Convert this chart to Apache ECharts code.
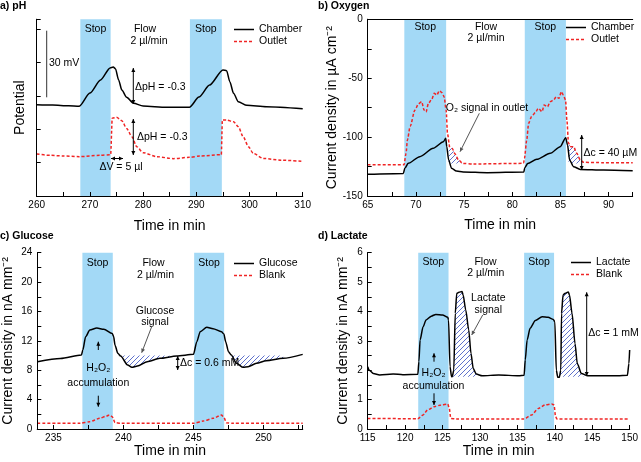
<!DOCTYPE html>
<html><head><meta charset="utf-8">
<script src="https://cdn.jsdelivr.net/npm/echarts@6/dist/echarts.min.js"></script>
<style>html,body{margin:0;padding:0;background:#fff}#c{width:641px;height:462px}</style>
</head><body><div id="c"></div><script>
// ---------- data ----------
const stopA = [[268.2, 273.9], [288.8, 294.8]];
const stopB = [[68.8, 73.14], [81.3, 85.57]];
const stopC = [[237.07, 239.24], [245.05, 247.19]];
const stopD = [[121.75, 125.8], [135.9, 139.9]];

const phChamber = [[260,41.1],[263,40.9],[266,40.6],[268,40.4],[270,46.3],[272,52.2],[273.8,57.6],[274.4,58.0],[274.8,57.3],[275.4,52.2],[276,47.7],[276.9,44.4],[278.2,41.7],[280,40.5],[284.4,39.9],[288.7,39.9],[290.5,44.5],[292.5,49.9],[295,56.7],[295.7,56.4],[296.3,51.4],[297,46.2],[297.9,42.4],[299.5,40.8],[303.2,40.2],[310,39.3]];
const phOutlet = [[260,18.9],[262.5,18.3],[265,18.0],[268,17.7],[271.9,18.3],[273.9,18.6],[274.2,35.0],[275,35.4],[276,33.9],[276.9,30.4],[277.9,26.7],[278.8,22.2],[280,19.5],[282.6,17.7],[285.7,16.8],[288.7,17.4],[290.7,18.0],[294.7,18.6],[294.9,34.2],[295.7,34.2],[297,33.4],[297.9,31.2],[298.8,26.7],[299.8,22.2],[300.7,19.2],[302.6,16.9],[306,16.1],[310,15.6]];

const o2Chamber = [[65,-131.6],[68.7,-130.8],[68.85,-126.5],[69.2,-122.3],[70.4,-116.6],[71.8,-109.5],[72.86,-103.9],[73.1,-101],[73.2,-108],[73.4,-119.4],[73.7,-126.5],[74.2,-128.8],[74.9,-129.6],[77.4,-130.2],[81.2,-129.6],[81.3,-126],[81.6,-122.5],[82.55,-118.9],[83.94,-113.8],[84.98,-108.1],[85.55,-100.5],[85.74,-106.7],[85.95,-119.4],[86.36,-125.1],[87.06,-127.4],[89.48,-127.9],[92.5,-128.5]];
const o2Outlet = [[65,-123.4],[68.77,-123.4],[68.98,-113.8],[69.12,-102.5],[69.4,-91.1],[69.9,-77],[70.26,-71.9],[70.6,-69.9],[70.85,-77],[71.06,-78.7],[71.3,-71.3],[71.65,-67.9],[71.9,-62.8],[72.17,-64.3],[72.44,-60.6],[72.72,-62.3],[72.93,-65.7],[73.14,-77],[73.28,-96.8],[73.5,-108.1],[73.76,-109.5],[74.07,-114.4],[74.42,-119.4],[74.87,-122.3],[75.98,-122.8],[81.17,-122.3],[81.27,-118],[81.5,-102.5],[81.7,-88.3],[82.0,-82.6],[82.4,-79.2],[82.7,-75.6],[83.1,-78.4],[83.3,-72.7],[83.66,-74.2],[83.94,-69.9],[84.3,-68.5],[84.56,-65.7],[84.84,-67.1],[85.1,-61.4],[85.3,-64.3],[85.53,-68.5],[85.67,-85.5],[85.84,-105.3],[86.09,-108.1],[86.36,-108.1],[86.7,-113.8],[87.06,-119.4],[87.4,-121.4],[89.48,-121.7],[92.5,-121.7]];
const o2Signal1 = [[73.4,-107.5],[73.5,-108.1],[73.76,-109.5],[74.07,-114.4],[74.42,-119.4],[74.87,-122.3]];
const o2Signal2 = [[85.84,-105.3],[86.09,-108.1],[86.36,-108.1],[86.7,-113.8],[87.06,-119.4],[87.4,-121.4]];
const o2Base = -122.5;

const gluSignal = [[233.86,9.17],[235.5,9.6],[237.0,10.07],[237.1,10.75],[237.3,12.57],[237.6,13.47],[238.1,13.75],[238.6,13.57],[239.2,13.0],[239.3,12.6],[239.4,11.4],[239.6,10.3],[239.8,9.94],[240.3,8.71],[240.6,8.39],[241.0,8.58],[241.7,9.17],[242.6,9.62],[243.8,9.94],[245.0,10.16],[245.24,11.89],[245.48,13.25],[245.95,13.84],[246.4,13.66],[247.0,13.25],[247.17,12.93],[247.3,11.89],[247.5,10.53],[247.7,10.07],[248.07,8.94],[248.55,8.39],[248.9,8.48],[249.5,8.94],[250.2,9.30],[251.4,9.62],[252.8,10.16]];
const gluBlank = [[233.86,0.77],[236.9,0.77],[237.6,1.0],[238.3,1.45],[238.8,1.77],[239.0,1.9],[239.2,1.68],[239.4,0.86],[239.8,0.77],[245.0,0.77],[245.7,1.09],[246.4,1.45],[247.0,1.9],[247.17,1.59],[247.35,0.86],[247.8,0.77],[252.8,0.77]];
const gluHatch1 = [[239.7,10.0],[239.8,9.94],[240.3,8.71],[240.6,8.39],[241.0,8.58],[241.7,9.17],[242.6,9.62],[243.8,9.94]];
const gluHatch2 = [[247.75,10.0],[248.07,8.94],[248.55,8.39],[248.9,8.48],[249.5,8.94],[250.2,9.30],[251.4,9.62]];
const gluBase = 10.0;

const lacSignal = [[115,2.12],[115.2,2.0],[115.75,1.89],[116.6,1.84],[118.4,1.87],[119.7,1.85],[121.7,1.86],[121.84,2.29],[122.0,3.03],[122.4,3.48],[122.8,3.71],[123.5,3.84],[124.1,3.90],[125.0,3.88],[125.7,3.80],[125.8,3.71],[126.0,2.12],[126.2,1.78],[126.3,1.78],[126.5,2.0],[126.7,3.94],[126.9,4.62],[127.2,4.65],[127.6,4.68],[127.75,4.56],[128.1,4.05],[128.5,3.37],[128.8,2.57],[129.1,2.06],[129.5,1.87],[130.3,1.81],[132.5,1.84],[135.2,1.81],[135.9,1.83],[136.05,2.35],[136.3,3.03],[136.7,3.43],[137.4,3.69],[138.3,3.82],[139.1,3.80],[139.8,3.73],[140.0,3.65],[140.2,2.0],[140.4,1.76],[140.6,1.76],[140.8,2.0],[140.9,3.94],[141.1,4.56],[141.4,4.62],[141.8,4.66],[141.96,4.56],[142.3,3.94],[142.7,2.91],[143.0,2.23],[143.55,1.89],[144.4,1.81],[148.4,1.81],[149.7,1.83],[149.9,2.23],[150,2.69]];
const lacBlank = [[115,0.36],[121.7,0.35],[122.4,0.48],[123.0,0.65],[123.9,0.76],[124.8,0.82],[125.7,0.85],[125.9,0.70],[126.1,0.36],[126.8,0.34],[135.9,0.34],[136.9,0.48],[137.8,0.70],[138.7,0.82],[139.6,0.85],[139.9,0.82],[140.1,0.42],[140.3,0.34],[150,0.34]];
const lacHatch1 = [[126.3,1.78],[126.5,2.0],[126.7,3.94],[126.9,4.62],[127.2,4.65],[127.6,4.68],[127.75,4.56],[128.1,4.05],[128.5,3.37],[128.8,2.57],[129.1,2.06],[129.5,1.87]];
const lacHatch2 = [[140.6,1.76],[140.8,2.0],[140.9,3.94],[141.1,4.56],[141.4,4.62],[141.8,4.66],[141.96,4.56],[142.3,3.94],[142.7,2.91],[143.0,2.23],[143.55,1.89],[144.0,1.8]];
const lacBase = 1.78;

// ---------- styling ----------
const FF = 'Liberation Sans, Arial, sans-serif';
const STOP_COLOR = '#a3d9f6';
const RED = '#f02424';

function hatchPattern() {
  const n = 5;
  const c = document.createElement('canvas');
  c.width = n; c.height = n;
  const g = c.getContext('2d');
  g.fillStyle = 'rgba(255,255,255,0.85)';
  g.fillRect(0, 0, n, n);
  g.strokeStyle = '#4d62c6'; g.lineWidth = 0.9;
  g.beginPath();
  g.moveTo(0, n); g.lineTo(n, 0);
  g.moveTo(-1, 1); g.lineTo(1, -1);
  g.moveTo(n - 1, n + 1); g.lineTo(n + 1, n - 1);
  g.stroke();
  return c;
}
const HATCH = { image: hatchPattern(), repeat: 'repeat' };

const grids = [
  { left: 36.7, top: 19.3, width: 266, height: 176.7 },
  { left: 367.7, top: 19.3, width: 265, height: 176.7 },
  { left: 37.3, top: 252.7, width: 265.4, height: 176.3 },
  { left: 367.7, top: 252.7, width: 264.3, height: 176.3 }
];

function isStep(v, step) { const r = v / step; return Math.abs(r - Math.round(r)) < 1e-6; }

function xAx(g, o) {
  return Object.assign({
    type: 'value', gridIndex: g, position: 'bottom', z: 10,
    axisLine: { show: true, onZero: false, lineStyle: { color: '#000', width: 1 } },
    axisTick: { show: true, inside: true, length: 4, lineStyle: { color: '#000' } },
    axisLabel: { fontSize: 10, color: '#000', margin: 4, fontFamily: FF,
      formatter: v => isStep(v, o.step) ? String(Math.round(v)) : '' },
    splitLine: { show: false },
    name: 'Time in min', nameLocation: 'middle', nameGap: o.nameGap,
    nameTextStyle: { fontSize: 14, color: '#000', fontFamily: FF }
  }, o.extra);
}
function yAx(g, o) {
  return Object.assign({
    type: 'value', gridIndex: g, position: 'left', z: 10,
    axisLine: { show: true, onZero: false, lineStyle: { color: '#000', width: 1 } },
    axisTick: { show: true, inside: true, length: 4, lineStyle: { color: '#000' } },
    axisLabel: { show: o.labels !== false, fontSize: 10, color: '#000', margin: 5, fontFamily: FF,
      formatter: v => isStep(v, o.step) ? String(v) : '' },
    splitLine: { show: false },
    name: o.name, nameLocation: 'middle', nameGap: o.nameGap,
    nameTextStyle: { fontSize: 14, color: '#000', fontFamily: FF }
  }, o.extra);
}
function frameX(g) {
  return { type: 'value', gridIndex: g, position: 'top', min: 0, max: 1, z: 10,
    axisLine: { show: true, lineStyle: { color: '#000', width: 1 } },
    axisTick: { show: false }, axisLabel: { show: false }, splitLine: { show: false } };
}
function frameY(g) {
  return { type: 'value', gridIndex: g, position: 'right', min: 0, max: 1, z: 10,
    axisLine: { show: true, lineStyle: { color: '#000', width: 1 } },
    axisTick: { show: false }, axisLabel: { show: false }, splitLine: { show: false } };
}

const xAxes = [
  xAx(0, { step: 10, nameGap: 23, extra: { min: 260, max: 310, interval: 5 } }),
  xAx(1, { step: 5, nameGap: 22, extra: { min: 65, max: 92.5, interval: 2.5 } }),
  xAx(2, { step: 5, nameGap: 15, extra: { min: 233.85, max: 252.8, minInterval: 2.5, maxInterval: 2.5, splitNumber: 8 } }),
  xAx(3, { step: 5, nameGap: 14, extra: { min: 115, max: 150, interval: 2.5 } }),
  frameX(0), frameX(1), frameX(2), frameX(3)
];
const yAxes = [
  yAx(0, { labels: false, step: 15, name: 'Potential', nameGap: 10, extra: { min: 0, max: 79.5, interval: 15 } }),
  yAx(1, { step: 50, name: 'Current density in µA cm⁻²', nameGap: 29, extra: { min: -150, max: 0, interval: 25 } }),
  yAx(2, { step: 4, name: 'Current density in nA mm⁻²', nameGap: 22, extra: { min: 0, max: 24, interval: 2 } }),
  yAx(3, { step: 1, name: 'Current density in nA mm⁻²', nameGap: 18, extra: { min: 0, max: 6, interval: 0.5 } }),
  frameY(0), frameY(1), frameY(2), frameY(3)
];

function stopArea(ranges, dist) {
  return {
    silent: true,
    itemStyle: { color: STOP_COLOR },
    label: { show: true, position: 'insideTop', distance: dist, formatter: 'Stop',
      color: '#000', fontSize: 10.5, fontFamily: FF },
    data: ranges.map(r => [{ xAxis: r[0] }, { xAxis: r[1] }])
  };
}
function solid(g, name, data, stops, dist) {
  const s = { type: 'line', name, xAxisIndex: g, yAxisIndex: g, data, symbol: 'none', showSymbol: false,
    smooth: 0.25, smoothMonotone: 'x', z: 3,
    lineStyle: { color: '#000', width: 1.5 }, itemStyle: { color: '#000' } };
  if (stops) s.markArea = stopArea(stops, dist);
  return s;
}
function dashed(g, name, data) {
  return { type: 'line', name, xAxisIndex: g, yAxisIndex: g, data, symbol: 'none', showSymbol: false,
    smooth: 0.25, smoothMonotone: 'x', z: 3,
    lineStyle: { color: RED, width: 1.5, type: [3, 2] }, itemStyle: { color: RED } };
}
function hatch(g, data, base) {
  return { type: 'line', xAxisIndex: g, yAxisIndex: g, data, symbol: 'none',
    smooth: 0.25, smoothMonotone: 'x', z: 2, silent: true,
    lineStyle: { width: 0, opacity: 0 },
    areaStyle: { color: HATCH, origin: base, opacity: 1 } };
}

const series = [
  solid(0, 'Chamber', phChamber, stopA, 4.5),
  dashed(0, 'Outlet', phOutlet),
  hatch(1, o2Signal1, o2Base),
  hatch(1, o2Signal2, o2Base),
  solid(1, 'Chamber', o2Chamber, stopB, 2.5),
  dashed(1, 'Outlet', o2Outlet),
  hatch(2, gluHatch1, gluBase),
  hatch(2, gluHatch2, gluBase),
  solid(2, 'Glucose', gluSignal, stopC, 5),
  dashed(2, 'Blank', gluBlank),
  hatch(3, lacHatch1, lacBase),
  hatch(3, lacHatch2, lacBase),
  solid(3, 'Lactate', lacSignal, stopD, 4),
  dashed(3, 'Blank', lacBlank)
];

function leg(left, top, names) {
  return { left, top, orient: 'vertical', data: names.map(n => ({ name: n, icon: 'none' })),
    itemWidth: 20, itemHeight: 10, itemGap: 1,
    itemStyle: { opacity: 0 },
    selectedMode: false, padding: 0,
    textStyle: { fontSize: 10.5, color: '#000', fontFamily: FF, lineHeight: 11 } };
}
const legends = [
  leg(234, 24, ['Chamber', 'Outlet']),
  leg(566, 22, ['Chamber', 'Outlet']),
  leg(234, 258, ['Glucose', 'Blank']),
  leg(571, 257, ['Lactate', 'Blank'])
];

// ---------- annotations (layout only) ----------
const G = [];
function txt(x, y, s, align, opt) {
  G.push({ type: 'text', x, y, z: 20, silent: true,
    style: Object.assign({ text: s, fill: '#000', font: '10.5px ' + FF, align: align || 'center', verticalAlign: 'middle' }, opt || {}) });
}
function head(x, y, dx, dy, color) {
  const L = Math.hypot(dx, dy); dx /= L; dy /= L;
  const len = 4, w = 2;
  G.push({ type: 'polygon', z: 20, silent: true,
    shape: { points: [[x, y], [x - dx * len + dy * w, y - dy * len - dx * w], [x - dx * len - dy * w, y - dy * len + dx * w]] },
    style: { fill: color } });
}
function arrow(x1, y1, x2, y2, both, color) {
  color = color || '#000';
  G.push({ type: 'line', z: 20, silent: true, shape: { x1, y1, x2, y2 }, style: { stroke: color, lineWidth: 1 } });
  head(x2, y2, x2 - x1, y2 - y1, color);
  if (both) head(x1, y1, x1 - x2, y1 - y2, color);
}
function legLine(x1, x2, y, dashedLine) {
  G.push({ type: 'line', z: 20, silent: true, shape: { x1, y1: y, x2, y2: y },
    style: dashedLine ? { stroke: RED, lineWidth: 1.5, lineDash: [3, 2] } : { stroke: '#000', lineWidth: 1.5 } });
}
const bold = { font: 'bold 10.5px ' + FF };
// titles
txt(0, 6, 'a) pH', 'left', bold);
txt(318, 6, 'b) Oxygen', 'left', bold);
txt(0, 236, 'c) Glucose', 'left', bold);
txt(318, 236, 'd) Lactate', 'left', bold);
// a
G.push({ type: 'line', z: 20, silent: true, shape: { x1: 46.7, y1: 30.7, x2: 46.7, y2: 97.3 }, style: { stroke: '#333', lineWidth: 1 } });
txt(49, 63, '30 mV', 'left');
txt(145, 29, 'Flow'); txt(149, 41, '2 µl/min');
arrow(133.3, 68, 133.3, 104, true);
txt(135, 87, 'ΔpH = -0.3', 'left');
arrow(133.3, 119, 133.3, 155, true);
txt(137, 137, 'ΔpH = -0.3', 'left');
arrow(111, 158.5, 123, 158.5, true);
txt(121, 167, 'ΔV = 5 µl');
// b
txt(486, 27, 'Flow'); txt(486, 38.5, '2 µl/min');
txt(487, 108, 'O₂ signal in outlet');
arrow(479.3, 113.3, 460, 151.7, false, '#555');
arrow(581.7, 135, 581.7, 170, true);
txt(583.5, 153, 'Δc = 40 µM', 'left');
// c
txt(153.5, 263.3, 'Flow'); txt(155.5, 275, '2 µl/min');
txt(155, 311, 'Glucose'); txt(155, 322, 'signal');
arrow(151.7, 326.7, 141.7, 352.7, false, '#555');
arrow(98.3, 350, 98.3, 341.7, false);
txt(98.3, 368.3, 'H₂O₂'); txt(98.3, 382.7, 'accumulation');
arrow(98.3, 395.7, 98.3, 406.7, false);
arrow(177.7, 356, 177.7, 370, true);
txt(180, 362.7, 'Δc = 0.6 mM', 'left');
// d
txt(485.5, 261.7, 'Flow'); txt(485.8, 272.7, '2 µl/min');
txt(488.3, 298.3, 'Lactate'); txt(488.3, 310, 'signal');
arrow(482.7, 315, 471.7, 335, false, '#555');
arrow(434, 361.7, 434, 353.3, false);
txt(433.5, 373.3, 'H₂O₂'); txt(433.5, 385.7, 'accumulation');
arrow(434, 393.3, 434, 405, false);
arrow(586.7, 292.3, 586.7, 376, true);
txt(588.3, 333.3, 'Δc = 1 mM', 'left');

const chart = echarts.init(document.getElementById('c'), null, { renderer: 'canvas' });
chart.setOption({
  backgroundColor: '#fff',
  animation: false,
  textStyle: { fontFamily: FF },
  grid: grids,
  xAxis: xAxes,
  yAxis: yAxes,
  legend: legends,
  series,
  graphic: G
});
// legend line samples placed next to the legend texts
const legRows = [[234, 24, 2], [566, 22, 2], [234, 258, 2], [571, 257, 2]];
const extra = [];
legRows.forEach(r => {
  const [l, t] = r;
  [0, 1].forEach(i => {
    const y = t + 5.5 + i * 12;
    extra.push({ type: 'line', z: 20, silent: true, shape: { x1: l, y1: y, x2: l + 20, y2: y },
      style: i === 1 ? { stroke: RED, lineWidth: 1.5, lineDash: [3, 2] } : { stroke: '#000', lineWidth: 1.5 } });
  });
});
chart.setOption({ graphic: G.concat(extra) });
</script></body></html>
